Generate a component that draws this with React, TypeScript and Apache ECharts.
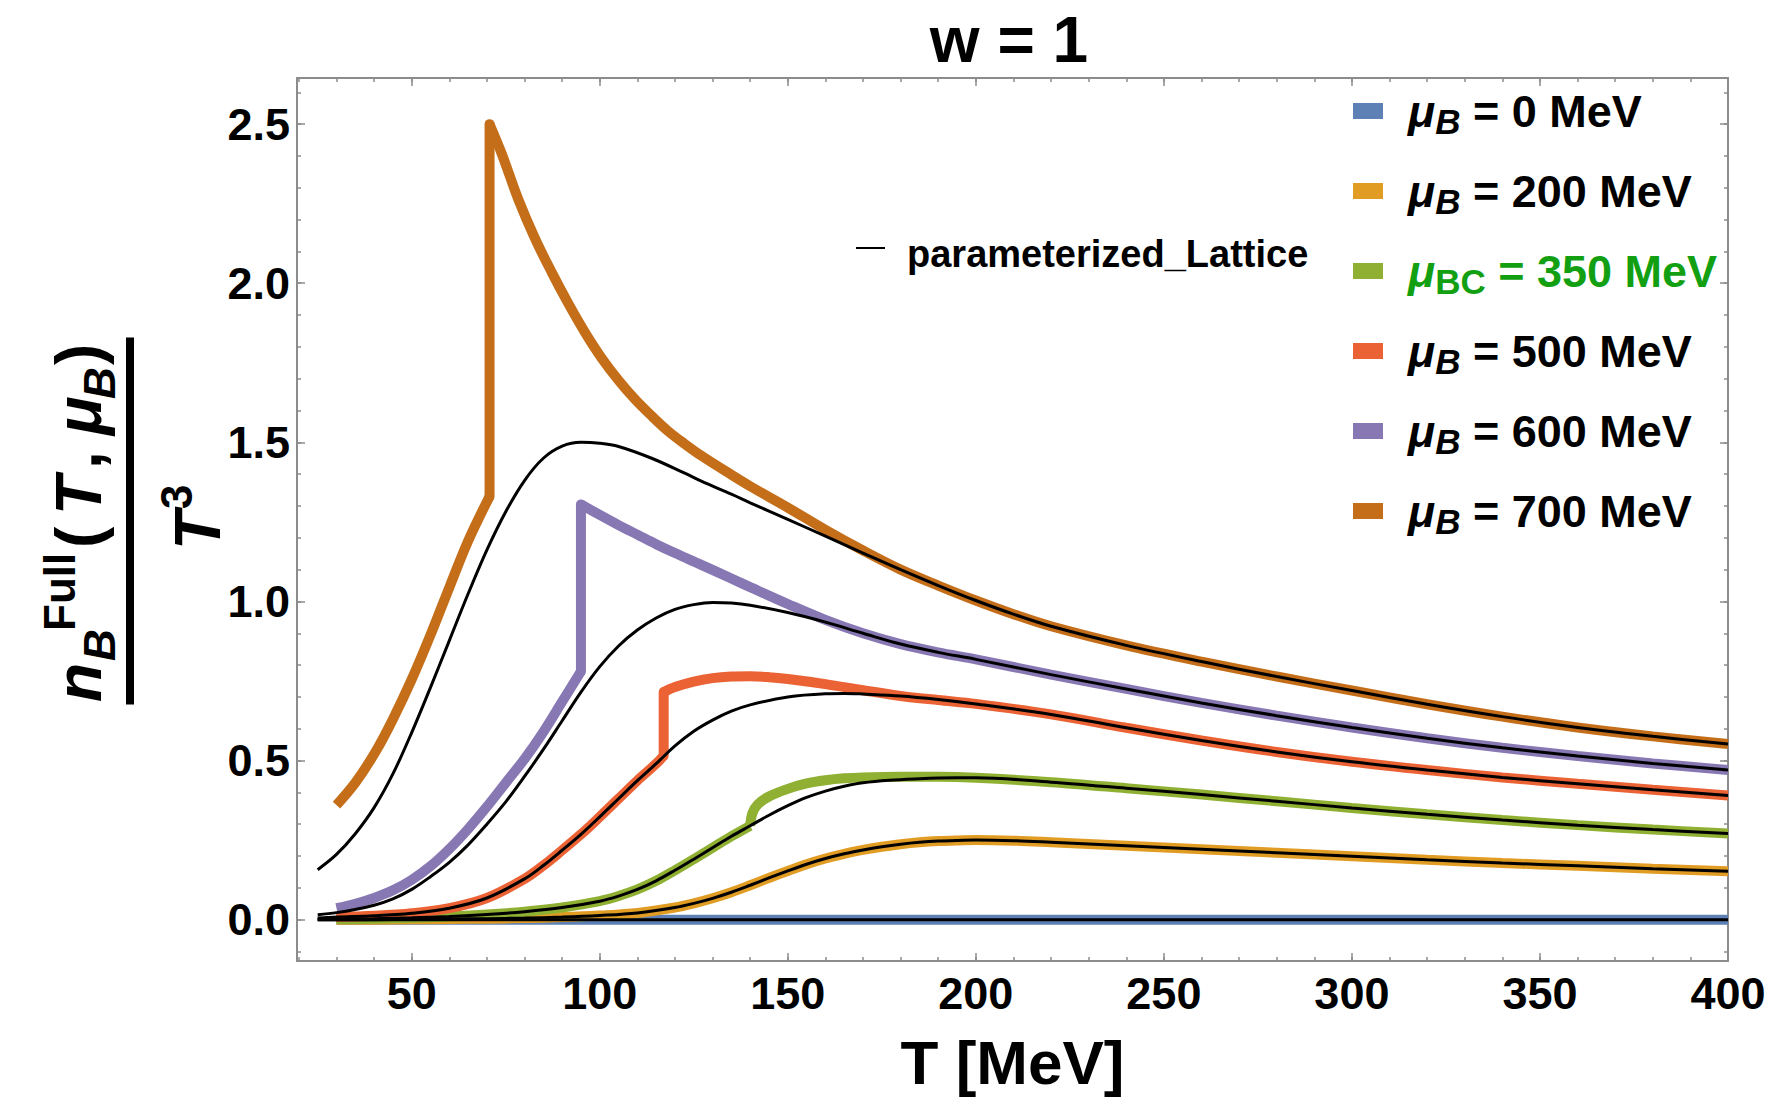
import React, { useEffect, useRef } from 'react';
import * as echarts from 'echarts';

const FONT = '"Liberation Sans", Arial, Helvetica, sans-serif';

// ---- axes ----
const T_MIN = 19.5;
const T_MAX = 400;
const Y_MIN = -0.13;
const Y_MAX = 2.645;
const xMajorTicks = [50, 100, 150, 200, 250, 300, 350, 400];
const xMinorTicks = [20, 30, 40, 50, 60, 70, 80, 90, 100, 110, 120, 130, 140, 150, 160, 170, 180, 190, 200, 210, 220, 230, 240, 250, 260, 270, 280, 290, 300, 310, 320, 330, 340, 350, 360, 370, 380, 390, 400];
const yMajorTicks = [0, 0.5, 1, 1.5, 2, 2.5];
const yMinorTicks = [-0.1, 0, 0.1, 0.2, 0.3, 0.4, 0.5, 0.6, 0.7, 0.8, 0.9, 1, 1.1, 1.2, 1.3, 1.4, 1.5, 1.6, 1.7, 1.8, 1.9, 2, 2.1, 2.2, 2.3, 2.4, 2.5, 2.6];

// ---- full model curves (T [MeV], n_B/T^3); Low = below the jump, High = above ----
const full0: number[][] = [[30, 0], [100, 0], [200, 0], [300, 0], [400, 0]];
const full200: number[][] = [[30, 0], [40, 0], [50, 0.001], [60, 0.002], [70, 0.003], [80, 0.005], [90, 0.008], [100, 0.013], [110, 0.021], [120, 0.038], [125, 0.051], [130, 0.067], [135, 0.086], [140, 0.108], [145, 0.131], [150, 0.153], [155, 0.174], [160, 0.192], [165, 0.207], [170, 0.219], [175, 0.229], [180, 0.237], [185, 0.243], [190, 0.247], [195, 0.249], [200, 0.25], [210, 0.248], [220, 0.243], [240, 0.232], [260, 0.221], [280, 0.21], [300, 0.199], [320, 0.188], [340, 0.178], [360, 0.169], [380, 0.16], [400, 0.152]];
const full350Low: number[][] = [[30, 0.001], [40, 0.003], [50, 0.006], [60, 0.01], [70, 0.016], [80, 0.025], [90, 0.038], [100, 0.058], [105, 0.074], [110, 0.095], [115, 0.122], [120, 0.155], [125, 0.19], [130, 0.226], [135, 0.262], [140, 0.295]];
const full350High: number[][] = [[140, 0.295], [140.6, 0.335], [142, 0.362], [145, 0.387], [150, 0.411], [155, 0.428], [160, 0.438], [165, 0.444], [170, 0.447], [180, 0.449], [190, 0.449], [200, 0.446], [220, 0.432], [240, 0.413], [260, 0.393], [280, 0.372], [300, 0.351], [320, 0.331], [340, 0.313], [360, 0.297], [380, 0.283], [400, 0.271]];
const full500Low: number[][] = [[30, 0.008], [40, 0.012], [50, 0.02], [60, 0.036], [70, 0.068], [80, 0.128], [85, 0.17], [90, 0.218], [95, 0.268], [100, 0.323], [105, 0.38], [110, 0.437], [115, 0.49], [117, 0.515]];
const full500High: number[][] = [[117, 0.715], [120, 0.731], [125, 0.748], [130, 0.759], [135, 0.764], [140, 0.765], [145, 0.762], [150, 0.756], [160, 0.74], [170, 0.721], [180, 0.703], [190, 0.69], [200, 0.678], [220, 0.645], [240, 0.603], [260, 0.563], [280, 0.527], [300, 0.496], [320, 0.47], [340, 0.447], [360, 0.427], [380, 0.408], [400, 0.39]];
const full600Low: number[][] = [[30, 0.036], [35, 0.05], [40, 0.068], [45, 0.092], [50, 0.125], [55, 0.168], [60, 0.222], [65, 0.285], [70, 0.355], [75, 0.43], [80, 0.505], [85, 0.59], [90, 0.685], [95, 0.78]];
const full600High: number[][] = [[95, 1.305], [100, 1.272], [105, 1.24], [110, 1.21], [115, 1.18], [120, 1.152], [127, 1.115], [135, 1.072], [140, 1.045], [150, 0.992], [160, 0.942], [170, 0.9], [180, 0.866], [190, 0.84], [200, 0.818], [220, 0.77], [240, 0.725], [260, 0.681], [280, 0.641], [300, 0.604], [320, 0.57], [340, 0.54], [360, 0.514], [380, 0.491], [400, 0.47]];
const full700Low: number[][] = [[30, 0.36], [35, 0.43], [40.5, 0.53], [45, 0.63], [50, 0.755], [55, 0.895], [60.2, 1.05], [65, 1.19], [70.7, 1.33]];
const full700High: number[][] = [[70.7, 2.5], [74, 2.405], [78.4, 2.262], [82.8, 2.14], [87.2, 2.035], [91.7, 1.935], [96.1, 1.845], [100.5, 1.765], [105, 1.695], [109.4, 1.635], [113.8, 1.583], [118.2, 1.535], [122.6, 1.495], [127, 1.458], [135, 1.398], [140, 1.362], [150, 1.295], [160, 1.225], [170, 1.16], [180, 1.1], [190, 1.05], [200, 1.003], [210, 0.96], [220, 0.922], [240, 0.862], [260, 0.811], [280, 0.764], [300, 0.72], [320, 0.677], [340, 0.638], [360, 0.604], [380, 0.576], [400, 0.552]];

// ---- parameterized lattice curves ----
const lat0: number[][] = [[25, 0], [100, 0], [200, 0], [300, 0], [400, 0]];
const lat200: number[][] = [[25, 0], [40, 0], [50, 0.001], [60, 0.002], [70, 0.003], [80, 0.005], [90, 0.008], [100, 0.013], [110, 0.021], [120, 0.038], [125, 0.051], [130, 0.067], [135, 0.086], [140, 0.108], [145, 0.131], [150, 0.153], [155, 0.174], [160, 0.192], [165, 0.207], [170, 0.219], [175, 0.229], [180, 0.237], [185, 0.243], [190, 0.247], [195, 0.249], [200, 0.25], [210, 0.248], [220, 0.243], [240, 0.232], [260, 0.221], [280, 0.21], [300, 0.199], [320, 0.188], [340, 0.178], [360, 0.169], [380, 0.16], [400, 0.152]];
const lat350: number[][] = [[25, 0.001], [40, 0.003], [50, 0.006], [60, 0.01], [70, 0.016], [80, 0.025], [90, 0.038], [100, 0.058], [105, 0.074], [110, 0.095], [115, 0.122], [120, 0.155], [125, 0.19], [130, 0.226], [135, 0.262], [140, 0.295], [145, 0.328], [150, 0.358], [155, 0.384], [160, 0.404], [165, 0.419], [170, 0.43], [177, 0.438], [185, 0.443], [190, 0.445], [200, 0.446], [220, 0.432], [240, 0.413], [260, 0.393], [280, 0.372], [300, 0.351], [320, 0.331], [340, 0.313], [360, 0.297], [380, 0.283], [400, 0.271]];
const lat500: number[][] = [[25, 0.005], [30, 0.008], [40, 0.012], [50, 0.02], [60, 0.036], [70, 0.068], [80, 0.128], [85, 0.17], [90, 0.218], [95, 0.268], [100, 0.323], [105, 0.38], [110, 0.437], [115, 0.49], [120, 0.546], [125, 0.592], [130, 0.627], [135, 0.655], [140, 0.675], [150, 0.7], [160, 0.71], [165, 0.711], [170, 0.709], [180, 0.703], [190, 0.692], [200, 0.678], [220, 0.645], [240, 0.603], [260, 0.563], [280, 0.527], [300, 0.496], [320, 0.47], [340, 0.447], [360, 0.427], [380, 0.408], [400, 0.39]];
const lat600: number[][] = [[25, 0.015], [30, 0.022], [35, 0.032], [40, 0.045], [45, 0.065], [50, 0.095], [55, 0.135], [60, 0.18], [65, 0.235], [70, 0.3], [75, 0.37], [80, 0.45], [85, 0.535], [90, 0.625], [95, 0.715], [100, 0.795], [105, 0.86], [110, 0.91], [115, 0.948], [120, 0.975], [125, 0.99], [130, 0.997], [135, 0.995], [140, 0.988], [150, 0.965], [160, 0.935], [170, 0.9], [180, 0.866], [190, 0.84], [200, 0.818], [220, 0.77], [240, 0.725], [260, 0.681], [280, 0.641], [300, 0.604], [320, 0.57], [340, 0.54], [360, 0.514], [380, 0.491], [400, 0.47]];
const lat700: number[][] = [[25, 0.157], [30, 0.205], [35, 0.27], [40, 0.352], [45, 0.458], [50, 0.588], [55, 0.73], [60, 0.877], [65, 1.024], [70, 1.162], [75, 1.282], [80, 1.38], [85, 1.45], [90, 1.488], [95, 1.5], [100, 1.497], [105, 1.487], [113.8, 1.45], [122.6, 1.403], [127, 1.378], [135, 1.337], [140, 1.31], [150, 1.258], [160, 1.205], [170, 1.152], [180, 1.1], [190, 1.05], [200, 1.003], [210, 0.96], [220, 0.922], [240, 0.862], [260, 0.811], [280, 0.764], [300, 0.72], [320, 0.677], [340, 0.638], [360, 0.604], [380, 0.576], [400, 0.552]];

const seriesNames = ['μB = 0 MeV', 'μB = 200 MeV', 'μBC = 350 MeV', 'μB = 500 MeV', 'μB = 600 MeV', 'μB = 700 MeV'];
const seriesColors = ['#5E81B5', '#E19C24', '#8FB032', '#EB6235', '#8778B3', '#C56E1A'];
// each curve: its smooth pieces; consecutive pieces are joined by a straight (jump) segment
const fullPieces = [[full0], [full200], [full350Low, full350High], [full500Low, full500High], [full600Low, full600High], [full700Low, full700High]];
const latData = [lat0, lat200, lat350, lat500, lat600, lat700];
const latName = 'parameterized_Lattice';

// legend text parts
const legendSub = ['B', 'B', 'BC', 'B', 'B', 'B'];
const legendValue = ['0', '200', '350', '500', '600', '700'];
const legendTextColor = ['#000', '#000', '#12A012', '#000', '#000', '#000'];

const FRAME = '#8c8c8c';
const frameLine = { show: true, onZero: false, lineStyle: { color: FRAME, width: 2 } };
const tickLine = { color: FRAME, width: 1.5 };
const tickLabel = { fontSize: 45, fontWeight: 'bold', fontFamily: FONT, color: '#000', lineHeight: 45 };

function xAxisDef(position: string, minor: boolean, labels: boolean, line: boolean) {
  return {
    type: 'value', position, min: T_MIN, max: T_MAX,
    axisLine: line ? frameLine : { show: false, onZero: false },
    axisTick: { show: true, inside: true, length: minor ? 4 : 8, customValues: minor ? xMinorTicks : xMajorTicks, lineStyle: tickLine },
    axisLabel: labels ? { show: true, customValues: xMajorTicks, margin: 10, ...tickLabel } : { show: false },
    splitLine: { show: false },
  };
}
function yAxisDef(position: string, minor: boolean, labels: boolean, line: boolean) {
  return {
    type: 'value', position, min: Y_MIN, max: Y_MAX,
    axisLine: line ? frameLine : { show: false, onZero: false },
    axisTick: { show: true, inside: true, length: minor ? 4 : 8, customValues: minor ? yMinorTicks : yMajorTicks, lineStyle: tickLine },
    axisLabel: labels ? { show: true, customValues: yMajorTicks, margin: 7, formatter: (v: number) => v.toFixed(1), ...tickLabel } : { show: false },
    splitLine: { show: false },
  };
}

function txt(text: string, x: number, y: number, size: number, opts: any = {}) {
  return {
    type: 'text',
    style: {
      text, x, y, fill: opts.fill || '#000',
      fontSize: size, fontWeight: 'bold', fontStyle: opts.italic ? 'italic' : 'normal', fontFamily: FONT,
      align: opts.align || 'left', verticalAlign: 'middle',
      textAlign: opts.align || 'left', textVerticalAlign: 'middle',
    },
  };
}

function buildOption() {
  const xAx: any[] = [xAxisDef('bottom', true, true, true), xAxisDef('bottom', false, false, false), xAxisDef('top', true, false, true), xAxisDef('top', false, false, false)];
  xAx[0].name = 'T [MeV]';
  xAx[0].nameLocation = 'middle';
  xAx[0].nameGap = 70;
  xAx[0].nameTextStyle = { fontSize: 62, fontWeight: 'bold', fontFamily: FONT, color: '#000', lineHeight: 62 };
  const yAx: any[] = [yAxisDef('left', true, true, true), yAxisDef('left', false, false, false), yAxisDef('right', true, false, true), yAxisDef('right', false, false, false)];

  const series: any[] = [];
  const W = 10;
  fullPieces.forEach((pieces, i) => {
    const color = seriesColors[i];
    pieces.forEach((d, k) => {
      series.push({
        type: 'line', name: seriesNames[i], data: d, xAxisIndex: 0, yAxisIndex: 0,
        showSymbol: false, symbol: 'none', silent: true, z: 2, smooth: 0.35,
        lineStyle: { color, width: W, cap: 'butt' }, itemStyle: { color },
      });
      if (k > 0) {
        const prev = pieces[k - 1];
        series.push({
          type: 'line', name: seriesNames[i], data: [prev[prev.length - 1], d[0]], xAxisIndex: 0, yAxisIndex: 0,
          showSymbol: false, symbol: 'none', silent: true, z: 2,
          lineStyle: { color, width: W, cap: 'round' }, itemStyle: { color },
        });
      }
    });
  });
  latData.forEach((d) => {
    series.push({
      type: 'line', name: latName, data: d, xAxisIndex: 0, yAxisIndex: 0,
      showSymbol: false, symbol: 'none', silent: true, z: 3, smooth: 0.35,
      lineStyle: { color: '#000', width: 3 }, itemStyle: { color: '#000' },
    });
  });

  // y-axis label: fraction n_B^Full(T, mu_B) / T^3, rotated
  const M = 64, S = 44;
  const mainY = -29 - 0.3465 * M;
  const subY = -15 - 0.3465 * S;
  const supY = -55 - 0.3465 * S;
  const yLabel = {
    type: 'group', x: 130, y: 521, rotation: Math.PI / 2,
    children: [
      txt('n', -181, mainY, M, { italic: true }),
      txt('B', -140, subY, S, { italic: true }),
      txt('Full', -110, supY, S),
      txt('(', -27, mainY, M),
      txt('T', 6, mainY, M, { italic: true }),
      txt(',', 52, mainY, M),
      txt('μ', 86, mainY, M, { italic: true }),
      txt('B', 122, subY, S, { italic: true }),
      txt(')', 156, mainY, M),
      { type: 'rect', shape: { x: -183.5, y: -4, width: 367, height: 8 }, style: { fill: '#000' } },
      txt('T', -29, 90 - 0.3465 * M, M, { italic: true }),
      txt('3', 12, 62 - 0.3465 * S, S),
    ],
  };

  const legendChildren: any[] = [];
  seriesNames.forEach((_, i) => {
    const yc = 111 + 80 * i;
    legendChildren.push({ type: 'rect', shape: { x: 1353, y: yc - 8, width: 30, height: 16 }, style: { fill: seriesColors[i] } });
    const subKey = legendSub[i] === 'BC' ? 'subUp' : 'sub';
    legendChildren.push({
      type: 'text',
      style: {
        text: `{mu|μ}{${subKey}|${legendSub[i]}}{t| = ${legendValue[i]} MeV}`,
        x: 1408, y: yc, align: 'left', verticalAlign: 'middle', textAlign: 'left', textVerticalAlign: 'middle',
        fill: legendTextColor[i], fontFamily: FONT, fontSize: 45, fontWeight: 'bold',
        rich: {
          mu: { fontSize: 45, fontStyle: 'italic', fontWeight: 'bold', fontFamily: FONT, lineHeight: 56, fill: legendTextColor[i] },
          sub: { fontSize: 35, fontStyle: 'italic', fontWeight: 'bold', fontFamily: FONT, lineHeight: 32, verticalAlign: 'bottom', fill: legendTextColor[i] },
          subUp: { fontSize: 35, fontStyle: 'normal', fontWeight: 'bold', fontFamily: FONT, lineHeight: 32, verticalAlign: 'bottom', fill: legendTextColor[i] },
          t: { fontSize: 45, fontWeight: 'bold', fontFamily: FONT, lineHeight: 56, fill: legendTextColor[i] },
        },
      },
    });
  });
  legendChildren.push({ type: 'line', shape: { x1: 856, y1: 248, x2: 885, y2: 248 }, style: { stroke: '#000', lineWidth: 2 } });
  legendChildren.push(txt(latName, 907, 267 - 0.3465 * 38, 38));

  return {
    animation: false,
    backgroundColor: '#ffffff',
    grid: { left: 297, right: 45, top: 78, bottom: 142 },
    xAxis: xAx,
    yAxis: yAx,
    series,
    graphic: [
      txt('w = 1', 1009, 61.7 - 0.3465 * 64, 64, { align: 'center' }),
      yLabel,
      { type: 'group', children: legendChildren },
    ],
  };
}

export default function App() {
  const ref = useRef<HTMLDivElement>(null);
  useEffect(() => {
    const chart = echarts.init(ref.current as HTMLDivElement, null, { renderer: 'svg' });
    chart.setOption(buildOption() as any);
    return () => chart.dispose();
  }, []);
  return <div ref={ref} style={{ position: 'fixed', left: 0, top: 0, width: 1773, height: 1103, background: '#fff' }} />;
}
